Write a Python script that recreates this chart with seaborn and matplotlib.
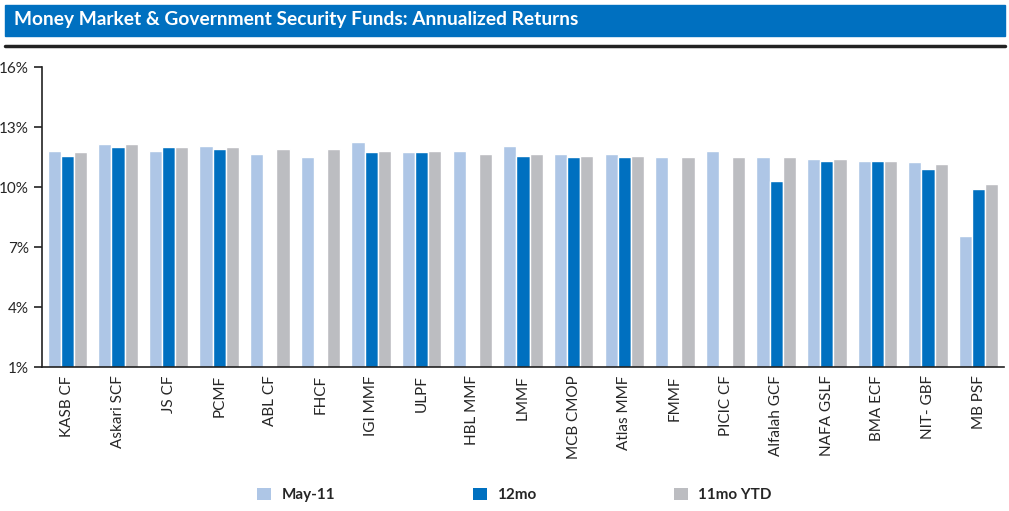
import numpy as np
import pandas as pd
import seaborn as sns
import matplotlib.pyplot as plt
from matplotlib.patches import Rectangle, Patch
from matplotlib.lines import Line2D

# --- data (annualized returns, %) ---
funds = ['KASB CF', 'Askari SCF', 'JS CF', 'PCMF', 'ABL CF', 'FHCF', 'IGI MMF',
         'ULPF', 'HBL MMF', 'LMMF', 'MCB CMOP', 'Atlas MMF', 'FMMF', 'PICIC CF',
         'Alfalah GCF', 'NAFA GSLF', 'BMA ECF', 'NIT- GBF', 'MB PSF']
may_11 = [11.80, 12.15, 11.80, 12.05, 11.65, 11.50, 12.25, 11.75, 11.80, 12.05,
          11.65, 11.65, 11.50, 11.80, 11.50, 11.40, 11.30, 11.25, 7.55]
mo_12 = [11.55, 12.00, 12.00, 11.90, np.nan, np.nan, 11.75, 11.75, np.nan, 11.55,
         11.50, 11.50, np.nan, np.nan, 10.30, 11.30, 11.30, 10.90, 9.90]
ytd_11 = [11.75, 12.15, 12.00, 12.00, 11.90, 11.90, 11.80, 11.80, 11.65, 11.65,
          11.55, 11.55, 11.50, 11.50, 11.50, 11.40, 11.30, 11.15, 10.15]
series = ['May-11', '12mo', '11mo YTD']
colors = ['#AEC6E6', '#0070C0', '#BCBDC1']
yticks = [1, 4, 7, 10, 13, 16]

df = pd.DataFrame({'fund': funds * 3,
                   'series': np.repeat(series, len(funds)),
                   'ret': may_11 + mo_12 + ytd_11})

sns.set_style('white')
plt.rcParams['font.family'] = ['Lato', 'DejaVu Sans']

fig = plt.figure(figsize=(10.09, 5.11), dpi=100)
ax = fig.add_axes([42 / 1009, 1 - 367 / 511, (1004 - 42) / 1009, 300 / 511])

sns.barplot(data=df, x='fund', y='ret', hue='series', order=funds,
            hue_order=series, palette=colors, width=0.78, gap=0,
            saturation=1, errorbar=None, legend=False, ax=ax)

ax.set_xlim(-0.5, len(funds) - 0.5)
ax.set_ylim(1, 16)
ax.set_yticks(yticks)
ax.set_yticklabels([f'{v}%' for v in yticks], fontsize=11)
ax.set_xlabel('')
ax.set_ylabel('')
ax.tick_params(axis='x', length=0, labelsize=11, labelrotation=90, pad=6)
ax.set_xticks(np.arange(-0.5, len(funds)), minor=True)
ax.tick_params(axis='x', which='minor', length=6, width=1.2, direction='out', color='#222222')
ax.tick_params(axis='y', length=6, width=1.2, direction='out', color='#222222', left=True)
sns.despine(ax=ax)
for s in ['left', 'bottom']:
    ax.spines[s].set_color('#222222')
    ax.spines[s].set_linewidth(1.2)

# title banner
fig.patches.append(Rectangle((5 / 1009, 1 - 36 / 511), 1000 / 1009, 31 / 511,
                             transform=fig.transFigure, color='#0070C0', zorder=0))
fig.text(14 / 1009, 1 - 20 / 511, 'Money Market & Government Security Funds: Annualized Returns',
         color='white', fontsize=13.8, fontweight='bold', va='center', ha='left')
fig.lines.append(Line2D([5 / 1009, 1005 / 1009], [1 - 46 / 511] * 2,
                        transform=fig.transFigure, color='#222222', lw=2.5))

handles = [Patch(facecolor=c, edgecolor='none') for c in colors]
fig.legend(handles, series, loc='center', bbox_to_anchor=(0.51, 1 - 495 / 511), ncol=3,
           frameon=False, prop={'weight': 'bold', 'size': 11}, handlelength=0.9,
           handleheight=0.9, handletextpad=0.7, columnspacing=9)

fig.savefig('out.png', dpi=100)
